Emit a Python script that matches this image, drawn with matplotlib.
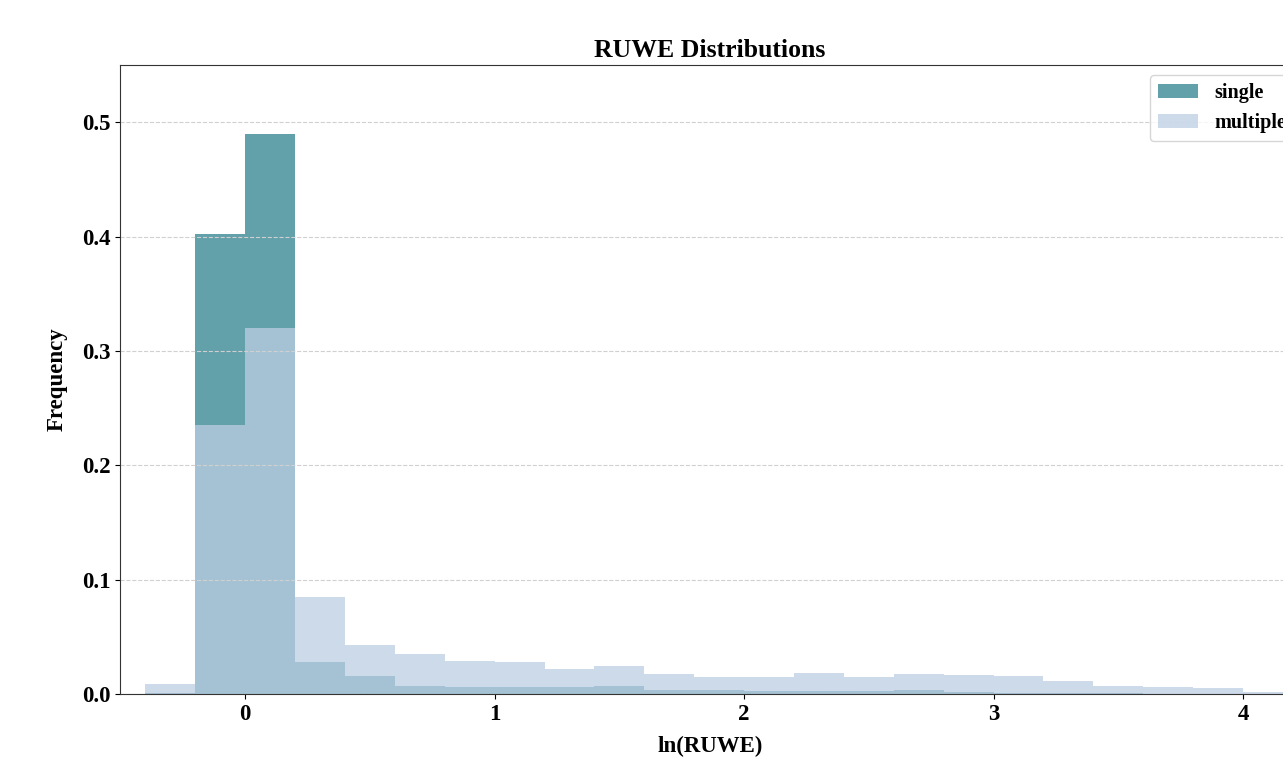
import numpy as np
import matplotlib
matplotlib.use("Agg")
import matplotlib.pyplot as plt

plt.rcParams['font.family'] = ['Liberation Serif', 'DejaVu Serif']
plt.rcParams['font.weight'] = 'bold'

# bin left edges, width 0.2
bin_left = [-0.4, -0.2, 0.0, 0.2, 0.4, 0.6, 0.8, 1.0, 1.2, 1.4, 1.6, 1.8,
            2.0, 2.2, 2.4, 2.6, 2.8, 3.0, 3.2, 3.4, 3.6, 3.8, 4.0]
single = [0.001, 0.402, 0.490, 0.028, 0.0157, 0.007, 0.0061, 0.006, 0.006,
          0.007, 0.0035, 0.0035, 0.0026, 0.0026, 0.0026, 0.0035, 0.0017,
          0.0009, 0.0009, 0.0005, 0.0004, 0.0003, 0.0002]
multiple = [0.0087, 0.235, 0.320, 0.0848, 0.0428, 0.035, 0.0289, 0.028,
            0.0219, 0.0245, 0.0175, 0.0149, 0.0149, 0.0184, 0.0149, 0.0175,
            0.0166, 0.0157, 0.0114, 0.007, 0.0061, 0.0052, 0.0017]
bin_width = 0.2

W, H = 1283, 763
fig = plt.figure(figsize=(W / 100, H / 100), dpi=100)
# axes run past the right edge, as in the reference
ax = fig.add_axes([120 / W, 69 / H, (1300 - 120) / W, (694 - 65) / H])

ax.bar(bin_left, single, width=bin_width, align='edge', color='#62a0aa',
       label='single')
ax.bar(bin_left, multiple, width=bin_width, align='edge', color='#bccee3',
       alpha=0.75, label='multiple')

ax.set_xlim(-0.502, (1300 - 245) / 249.5)
ax.set_ylim(0, 0.55)
ax.set_xticks([0, 1, 2, 3, 4])
ax.set_yticks([0.0, 0.1, 0.2, 0.3, 0.4, 0.5])
ax.tick_params(labelsize=16.5)
for lab in ax.get_xticklabels() + ax.get_yticklabels():
    lab.set_fontweight('bold')

ax.grid(axis='y', linestyle='--', color='#d0d0d0', linewidth=0.8)
for s in ax.spines.values():
    s.set_color('#333333')

ax.set_title('RUWE Distributions', fontsize=18.5, fontweight='bold', pad=6)
ax.set_xlabel('ln(RUWE)', fontsize=16.5, fontweight='bold', labelpad=8)
ax.set_ylabel('Frequency', fontsize=16.5, fontweight='bold', labelpad=10)

ax.legend(loc='upper left', bbox_to_anchor=(1150 / W, 1 - 75 / H),
          bbox_transform=fig.transFigure, borderaxespad=0,
          prop={'weight': 'bold', 'size': 14.5})

fig.savefig('out.png', dpi=100)
